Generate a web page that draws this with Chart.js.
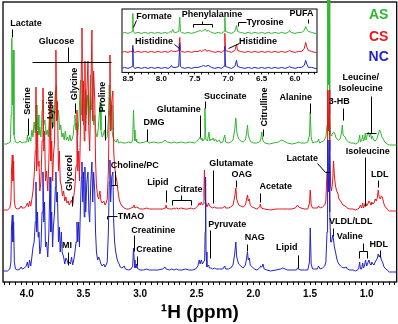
<!DOCTYPE html>
<html><head><meta charset="utf-8">
<script src="https://cdn.jsdelivr.net/npm/chart.js@4.4.1/dist/chart.umd.min.js"></script>
<style>
html,body{margin:0;padding:0;background:#fff;}
#wrap{position:relative;width:398px;height:324px;overflow:hidden;}
#main{position:absolute;left:0;top:0;}
#inset{position:absolute;left:112px;top:6px;}
</style></head><body>
<div id="wrap"><canvas id="main" width="398" height="324"></canvas><canvas id="inset" width="215" height="78"></canvas></div>
<script>
// ---------- data (ppm, intensity above each trace's baseline) ----------
const seriesNames = ['AS', 'CS', 'NC'];
const mainTickLabels = [4.0, 3.5, 3.0, 2.5, 2.0, 1.5, 1.0];
const insetTickLabels = [8.5, 8.0, 7.5, 7.0, 6.5, 6.0];

const asSpectrum = [
[4.21,1],[4.18,1],[4.16,2],[4.145,3],[4.138,30],[4.132,107],[4.126,40],[4.12,95],[4.113,10],[4.10,3],[4.08,2],[4.06,4],[4.045,2],[4.025,3],[4.00,3],[3.995,10],[3.985,3],[3.975,8],[3.965,4],[3.955,15],[3.945,8],[3.935,23],[3.925,12],[3.918,40],[3.91,15],[3.90,30],[3.893,10],[3.885,18],[3.875,8],[3.865,35],[3.858,45],[3.85,20],[3.84,25],[3.83,10],[3.82,15],[3.81,8],[3.80,30],[3.793,12],[3.785,38],[3.777,20],[3.77,40],[3.762,18],[3.755,30],[3.745,55],[3.738,60],[3.73,25],[3.72,35],[3.71,15],[3.70,20],[3.69,8],[3.68,12],[3.67,5],[3.66,14],[3.65,5],[3.64,8],[3.63,4],[3.62,10],[3.61,4],[3.60,6],[3.59,10],[3.583,20],[3.575,30],[3.567,15],[3.56,22],[3.55,10],[3.54,25],[3.532,50],[3.525,65],[3.518,30],[3.51,45],[3.50,20],[3.49,40],[3.482,55],[3.475,30],[3.465,50],[3.455,20],[3.445,40],[3.438,70],[3.43,35],[3.42,50],[3.41,20],[3.40,30],[3.39,12],[3.38,8],[3.37,15],[3.36,30],[3.352,43],[3.345,15],[3.335,8],[3.325,10],[3.315,15],[3.305,6],[3.29,8],[3.28,25],[3.272,60],[3.265,30],[3.255,40],[3.248,15],[3.24,8],[3.225,4],[3.21,3],[3.20,6],[3.19,2],[3.17,3],[3.15,2],[3.13,2],[3.10,3],[3.08,2],[3.065,5],[3.058,35],[3.052,15],[3.045,4],[3.035,6],[3.03,3],[3.00,2],[2.96,3],[2.94,4],[2.92,2],[2.88,3],[2.84,2],[2.80,3],[2.78,5],[2.76,3],[2.72,2],[2.70,3],[2.68,2],[2.64,3],[2.60,2],[2.56,3],[2.52,2],[2.50,4],[2.48,6],[2.47,8],[2.46,5],[2.455,7],[2.445,4],[2.435,6],[2.428,37],[2.42,6],[2.405,4],[2.392,13],[2.385,4],[2.375,6],[2.365,5],[2.355,7],[2.345,4],[2.335,6],[2.32,3],[2.30,5],[2.29,2],[2.27,3],[2.253,10],[2.245,3],[2.22,2],[2.20,3],[2.18,5],[2.165,15],[2.155,27],[2.145,12],[2.13,6],[2.11,4],[2.09,3],[2.07,5],[2.06,12],[2.052,20],[2.045,10],[2.035,6],[2.02,3],[2.00,2],[1.97,2],[1.945,3],[1.935,6],[1.925,13],[1.918,5],[1.90,2],[1.86,1],[1.82,2],[1.78,3],[1.75,5],[1.73,4],[1.70,2],[1.66,1],[1.62,2],[1.60,3],[1.58,2],[1.54,2],[1.52,3],[1.505,10],[1.498,33],[1.49,8],[1.478,2],[1.46,3],[1.435,3],[1.425,6],[1.415,2],[1.40,3],[1.38,4],[1.36,8],[1.35,20],[1.345,300],[1.338,60],[1.332,300],[1.326,30],[1.318,10],[1.31,9],[1.30,12],[1.29,13],[1.28,11],[1.27,7],[1.25,5],[1.235,6],[1.222,12],[1.215,20],[1.208,10],[1.20,9],[1.19,8],[1.18,5],[1.16,3],[1.14,2],[1.12,2],[1.10,1],[1.08,2],[1.07,4],[1.062,10],[1.055,3],[1.045,4],[1.035,10],[1.028,4],[1.02,6],[1.012,12],[1.005,5],[0.995,10],[0.985,13],[0.975,8],[0.965,12],[0.958,6],[0.95,9],[0.94,5],[0.925,4],[0.91,6],[0.895,12],[0.885,15],[0.875,12],[0.865,8],[0.855,6],[0.84,3],[0.82,1],[0.80,0],[0.76,0],[0.735,0]
];

const csSpectrum = [
[4.21,1],[4.17,1],[4.15,3],[4.14,10],[4.135,40],[4.128,56],[4.122,30],[4.116,50],[4.11,10],[4.10,3],[4.08,2],[4.06,3],[4.05,5],[4.04,3],[4.02,3],[4.005,5],[3.995,8],[3.985,4],[3.975,10],[3.965,5],[3.955,12],[3.945,20],[3.935,35],[3.925,60],[3.919,124],[3.913,40],[3.905,80],[3.90,45],[3.893,50],[3.885,20],[3.875,30],[3.865,70],[3.857,123],[3.85,60],[3.843,80],[3.835,30],[3.825,40],[3.815,20],[3.805,50],[3.795,111],[3.788,50],[3.78,70],[3.772,30],[3.765,55],[3.755,70],[3.748,120],[3.743,161],[3.738,90],[3.73,110],[3.72,40],[3.712,60],[3.705,30],[3.695,25],[3.685,15],[3.675,20],[3.665,10],[3.655,14],[3.645,8],[3.635,10],[3.625,6],[3.615,9],[3.605,11],[3.595,6],[3.585,15],[3.575,25],[3.565,45],[3.557,101],[3.55,40],[3.542,60],[3.535,30],[3.525,90],[3.518,150],[3.513,183],[3.507,90],[3.50,130],[3.493,70],[3.487,150],[3.48,80],[3.47,120],[3.46,150],[3.452,80],[3.445,60],[3.435,120],[3.425,181],[3.418,90],[3.41,140],[3.40,110],[3.393,50],[3.385,25],[3.375,15],[3.365,12],[3.355,20],[3.345,10],[3.335,8],[3.32,10],[3.31,6],[3.30,8],[3.29,12],[3.28,40],[3.272,100],[3.266,156],[3.26,80],[3.25,110],[3.24,120],[3.233,60],[3.225,45],[3.215,35],[3.205,30],[3.195,20],[3.185,12],[3.175,8],[3.16,5],[3.14,3],[3.12,2],[3.10,2],[3.08,3],[3.06,4],[3.055,6],[3.045,3],[3.03,4],[3.00,2],[2.97,2],[2.94,3],[2.92,2],[2.88,2],[2.84,2],[2.80,2],[2.78,3],[2.772,6],[2.765,3],[2.74,2],[2.72,2],[2.70,3],[2.69,2],[2.68,3],[2.66,2],[2.64,3],[2.60,2],[2.58,2],[2.55,3],[2.53,2],[2.51,3],[2.49,5],[2.478,8],[2.47,6],[2.46,9],[2.45,6],[2.44,7],[2.436,20],[2.432,41],[2.427,12],[2.41,4],[2.395,8],[2.388,5],[2.375,4],[2.36,3],[2.345,4],[2.33,3],[2.30,3],[2.27,3],[2.253,5],[2.245,3],[2.22,3],[2.20,4],[2.18,6],[2.165,14],[2.155,23],[2.147,12],[2.13,6],[2.11,5],[2.09,4],[2.07,6],[2.06,12],[2.052,16],[2.045,10],[2.035,12],[2.028,6],[2.01,4],[1.99,3],[1.97,2],[1.945,4],[1.938,7],[1.93,3],[1.90,2],[1.85,1],[1.80,2],[1.77,2],[1.74,2],[1.70,2],[1.66,2],[1.63,3],[1.61,6],[1.60,4],[1.58,3],[1.55,2],[1.52,2],[1.505,8],[1.498,21],[1.49,6],[1.478,3],[1.46,3],[1.435,3],[1.425,5],[1.41,3],[1.39,4],[1.37,6],[1.36,10],[1.35,40],[1.345,121],[1.338,80],[1.332,121],[1.326,60],[1.318,25],[1.31,20],[1.30,30],[1.292,50],[1.285,35],[1.275,25],[1.265,20],[1.255,18],[1.245,12],[1.23,10],[1.22,8],[1.21,6],[1.19,5],[1.17,3],[1.15,2],[1.12,2],[1.10,1],[1.08,2],[1.065,3],[1.055,6],[1.045,3],[1.035,8],[1.028,3],[1.018,6],[1.01,9],[1.00,5],[0.99,7],[0.98,10],[0.97,8],[0.962,6],[0.955,9],[0.945,7],[0.935,8],[0.925,12],[0.915,10],[0.905,14],[0.898,21],[0.89,14],[0.88,12],[0.87,15],[0.862,14],[0.85,8],[0.84,5],[0.82,2],[0.80,0],[0.76,0],[0.735,0]
];

const ncSpectrum = [
[4.21,1],[4.17,1],[4.15,3],[4.14,10],[4.135,45],[4.128,57],[4.122,30],[4.116,50],[4.11,10],[4.10,3],[4.08,2],[4.06,3],[4.05,5],[4.04,3],[4.02,4],[4.005,6],[3.995,10],[3.985,4],[3.975,12],[3.965,6],[3.955,15],[3.945,25],[3.935,30],[3.925,50],[3.919,90],[3.913,40],[3.905,60],[3.90,35],[3.893,40],[3.885,18],[3.875,25],[3.865,60],[3.857,100],[3.85,50],[3.843,70],[3.835,25],[3.825,30],[3.815,15],[3.805,40],[3.795,95],[3.788,40],[3.78,60],[3.772,25],[3.765,45],[3.755,60],[3.748,85],[3.743,100],[3.738,70],[3.73,80],[3.72,30],[3.712,45],[3.705,20],[3.695,40],[3.688,20],[3.675,15],[3.665,8],[3.655,14],[3.645,12],[3.635,8],[3.625,10],[3.615,8],[3.605,15],[3.595,7],[3.585,12],[3.575,20],[3.565,30],[3.557,50],[3.55,30],[3.542,50],[3.535,25],[3.525,70],[3.518,95],[3.513,110],[3.507,70],[3.50,100],[3.493,55],[3.487,105],[3.48,60],[3.47,90],[3.46,100],[3.452,60],[3.445,50],[3.435,90],[3.425,110],[3.418,70],[3.41,100],[3.40,80],[3.393,40],[3.385,20],[3.375,12],[3.365,15],[3.355,12],[3.345,8],[3.335,6],[3.32,8],[3.31,5],[3.30,7],[3.29,10],[3.28,40],[3.272,90],[3.266,112],[3.26,70],[3.25,95],[3.24,100],[3.233,50],[3.225,30],[3.215,20],[3.205,14],[3.195,10],[3.185,8],[3.175,5],[3.16,4],[3.14,6],[3.13,3],[3.10,2],[3.08,3],[3.065,6],[3.058,24],[3.052,12],[3.045,4],[3.033,8],[3.028,4],[3.00,2],[2.97,2],[2.94,3],[2.92,2],[2.88,2],[2.84,2],[2.80,3],[2.78,5],[2.77,3],[2.74,2],[2.72,3],[2.70,2],[2.68,3],[2.66,2],[2.63,2],[2.60,3],[2.57,2],[2.54,2],[2.51,3],[2.49,6],[2.478,12],[2.47,8],[2.46,12],[2.45,8],[2.44,10],[2.43,12],[2.426,40],[2.422,95],[2.418,20],[2.41,5],[2.395,7],[2.388,4],[2.375,4],[2.36,3],[2.345,4],[2.33,3],[2.30,3],[2.27,3],[2.253,6],[2.245,3],[2.22,3],[2.20,4],[2.18,7],[2.165,18],[2.155,30],[2.147,15],[2.13,8],[2.11,6],[2.09,4],[2.07,7],[2.06,14],[2.052,20],[2.045,12],[2.035,14],[2.028,7],[2.01,5],[1.99,3],[1.97,2],[1.945,4],[1.935,6],[1.925,5],[1.915,8],[1.905,3],[1.88,2],[1.85,1],[1.80,2],[1.76,3],[1.74,4],[1.72,3],[1.70,2],[1.66,2],[1.62,2],[1.61,4],[1.60,3],[1.58,2],[1.55,2],[1.52,2],[1.505,10],[1.498,44],[1.49,8],[1.478,3],[1.46,3],[1.435,3],[1.425,6],[1.41,3],[1.39,4],[1.37,6],[1.36,10],[1.35,40],[1.345,132],[1.338,80],[1.332,132],[1.326,60],[1.318,30],[1.31,30],[1.30,37],[1.292,32],[1.285,25],[1.275,20],[1.265,14],[1.255,10],[1.245,8],[1.23,6],[1.22,5],[1.20,4],[1.18,5],[1.17,3],[1.15,2],[1.12,2],[1.10,1],[1.08,2],[1.07,4],[1.062,10],[1.055,3],[1.045,3],[1.035,9],[1.028,4],[1.018,7],[1.01,12],[1.00,6],[0.99,9],[0.98,12],[0.97,8],[0.962,7],[0.955,10],[0.945,8],[0.935,7],[0.925,10],[0.915,12],[0.905,14],[0.898,18],[0.89,15],[0.88,17],[0.87,12],[0.86,10],[0.85,6],[0.84,4],[0.82,2],[0.80,0],[0.76,0],[0.735,0]
];

const insetAS = [
[8.59,0],[8.55,1],[8.50,0],[8.46,1],[8.435,2],[8.428,20],[8.42,2],[8.40,0],[8.35,1],[8.30,0],[8.25,1],[8.20,0],[8.15,1],[8.10,0],[8.05,1],[8.00,0],[7.95,1],[7.90,0],[7.87,2],[7.85,1],[7.83,4],[7.81,1],[7.78,1],[7.74,2],[7.725,16],[7.715,2],[7.70,1],[7.65,0],[7.60,1],[7.55,0],[7.50,1],[7.45,2],[7.42,3],[7.40,2],[7.37,3],[7.34,4],[7.32,2],[7.30,3],[7.28,2],[7.25,1],[7.20,0],[7.15,1],[7.10,0],[7.06,2],[7.05,16],[7.04,2],[7.00,1],[6.95,0],[6.90,2],[6.875,8],[6.86,2],[6.82,1],[6.75,0],[6.70,1],[6.65,0],[6.60,1],[6.55,0],[6.50,1],[6.45,0],[6.40,1],[6.35,0],[6.30,1],[6.25,0],[6.20,1],[6.15,0],[6.10,1],[6.08,3],[6.06,1],[6.00,0],[5.95,1],[5.90,1],[5.86,3],[5.84,7],[5.82,4],[5.80,2],[5.75,1],[5.70,0],[5.67,0]
];
const insetCS = [
[8.59,0],[8.55,1],[8.50,0],[8.46,1],[8.435,1],[8.428,4],[8.42,1],[8.40,0],[8.35,1],[8.30,0],[8.25,1],[8.20,0],[8.15,1],[8.10,0],[8.05,1],[8.00,0],[7.95,1],[7.90,0],[7.87,1],[7.85,2],[7.83,1],[7.78,1],[7.74,2],[7.725,15],[7.715,2],[7.70,1],[7.65,0],[7.60,1],[7.55,0],[7.50,1],[7.45,1],[7.42,2],[7.40,1],[7.37,2],[7.34,3],[7.32,1],[7.30,2],[7.25,1],[7.20,0],[7.15,1],[7.10,0],[7.06,2],[7.05,19],[7.04,2],[7.00,1],[6.95,0],[6.90,2],[6.875,8],[6.86,2],[6.82,1],[6.75,0],[6.70,1],[6.65,0],[6.60,1],[6.55,0],[6.50,1],[6.45,0],[6.40,1],[6.35,0],[6.30,1],[6.25,0],[6.20,1],[6.15,0],[6.10,1],[6.08,2],[6.06,1],[6.00,0],[5.95,1],[5.90,1],[5.86,4],[5.84,10],[5.82,5],[5.80,2],[5.75,1],[5.70,0],[5.67,0]
];
const insetNC = [
[8.59,0],[8.55,1],[8.50,0],[8.46,1],[8.435,2],[8.428,23],[8.42,2],[8.40,0],[8.35,1],[8.30,0],[8.25,1],[8.20,0],[8.15,1],[8.10,0],[8.05,1],[8.00,0],[7.95,1],[7.90,0],[7.87,1],[7.85,3],[7.83,1],[7.78,1],[7.74,2],[7.725,25],[7.715,2],[7.70,1],[7.65,0],[7.60,1],[7.55,0],[7.50,1],[7.45,1],[7.40,2],[7.37,3],[7.34,2],[7.30,3],[7.25,1],[7.20,0],[7.15,1],[7.10,0],[7.06,2],[7.05,22],[7.04,2],[7.00,1],[6.95,0],[6.90,2],[6.875,8],[6.86,2],[6.82,1],[6.75,0],[6.70,1],[6.65,0],[6.60,1],[6.55,0],[6.50,1],[6.45,0],[6.40,1],[6.35,0],[6.30,1],[6.25,0],[6.20,1],[6.15,0],[6.10,1],[6.08,2],[6.06,1],[6.00,0],[5.95,1],[5.90,1],[5.86,3],[5.84,8],[5.82,4],[5.80,1],[5.75,1],[5.70,0],[5.67,0]
];

// ---------- presentation ----------
const colors = { AS: '#2fb82f', CS: '#e8161c', NC: '#2323cc' };
const mainOffset = { AS: 137, CS: 71, NC: 10 };
const insetOffset = { AS: 39, CS: 20, NC: 4 };
const FONT = '"Liberation Sans", Arial, Helvetica, sans-serif';
Chart.defaults.font.family = FONT;

const mainLabels = [
 {t:'Lactate', x:4.007, y:258}, {t:'Glucose', x:3.738, y:240},
 {t:'Serine', x:3.998, y:181, r:1}, {t:'Lysine', x:3.795, y:177, r:1},
 {t:'Glycine', x:3.575, y:198, r:1}, {t:'Proline', x:3.328, y:185, r:1},
 {t:'Glutamine', x:2.658, y:172}, {t:'DMG', x:2.878, y:159},
 {t:'Succinate', x:2.248, y:185}, {t:'Citrulline', x:1.899, y:175, r:1},
 {t:'Alanine', x:1.626, y:184}, {t:'3-HB', x:1.242, y:180},
 {t:'Leucine/', x:1.052, y:204}, {t:'Isoleucine', x:1.052, y:193},
 {t:'Glycerol', x:3.623, y:109, r:1}, {t:'Choline/PC', x:3.046, y:116},
 {t:'Lipid', x:2.843, y:99}, {t:'Citrate', x:2.574, y:92},
 {t:'Glutamate', x:2.195, y:118}, {t:'OAG', x:2.102, y:107},
 {t:'Acetate', x:1.802, y:95}, {t:'Lactate', x:1.568, y:123},
 {t:'Isoleucine', x:0.99, y:130}, {t:'LDL', x:0.885, y:107},
 {t:'TMAO', x:3.081, y:65}, {t:'Creatinine', x:2.883, y:51},
 {t:'Creatine', x:2.874, y:32}, {t:'MI', x:3.646, y:36},
 {t:'Pyruvate', x:2.230, y:57}, {t:'NAG', x:1.987, y:44},
 {t:'Lipid', x:1.705, y:34}, {t:'VLDL/LDL', x:1.141, y:60},
 {t:'Valine', x:1.150, y:45}, {t:'HDL', x:0.894, y:37},
 {t:'AS', x:0.894, y:267, c:colors.AS, s:14}, {t:'CS', x:0.894, y:245, c:colors.CS, s:14},
 {t:'NC', x:0.894, y:225, c:colors.NC, s:14}
];
const mainLines = [
 [[4.131,253],[4.131,245]], [[3.637,235],[3.637,220]], [[3.954,220],[3.257,220]],
 [[3.990,164],[3.990,147]], [[3.778,160],[3.778,154]], [[3.575,179],[3.575,169]],
 [[3.310,167],[3.310,142]], [[2.472,167],[2.472,145]], [[2.940,153],[2.940,141]],
 [[2.428,181],[2.428,174]], [[1.917,153],[1.917,146]], [[1.502,179],[1.502,169]],
 [[1.210,174],[1.210,162]], [[0.963,186],[0.963,149]], [[1.007,149],[0.919,149]],
 [[3.601,86],[3.601,76]], [[3.222,111],[3.222,97]], [[3.257,97],[3.204,97]],
 [[2.772,92],[2.772,80]], [[2.640,87],[2.640,82]], [[2.719,77],[2.719,82],[2.552,82],[2.552,77]],
 [[2.358,112],[2.358,79]], [[2.155,102],[2.155,95]], [[1.943,89],[1.943,80]],
 [[1.440,119],[1.370,110],[1.326,110]], [[1.016,125],[1.016,76]], [[0.901,102],[0.901,95]],
 [[3.293,63],[3.293,66],[3.204,66]], [[3.055,47],[3.055,31]], [[3.028,26],[3.028,17]],
 [[3.637,30],[3.637,17]], [[2.384,52],[2.384,24]], [[2.058,38],[2.058,31]],
 [[1.608,27],[1.608,14]], [[1.300,54],[1.300,46]], [[1.034,39],[1.034,31]],
 [[1.069,24],[1.069,31],[0.998,31],[0.998,24]], [[0.885,32],[0.885,25]]
];
const insetLabels = [
 {t:'Formate', x:8.11, y:55.4}, {t:'Phenylalanine', x:7.243, y:57.4},
 {t:'Histidine', x:8.11, y:30.4}, {t:'Histidine', x:6.554, y:30.4},
 {t:'Tyrosine', x:6.449, y:49.4}, {t:'PUFA', x:5.903, y:58.4}
];
const insetLines = [
 [[8.380,52.4],[8.425,45.4]], [[7.527,45.4],[7.527,48.4],[7.243,48.4],[7.243,45.4]],
 [[7.385,51.4],[7.385,48.4]], [[7.811,28.4],[7.737,24.4]], [[6.838,29.4],[7.003,24.4]],
 [[6.733,50.4],[6.853,50.4],[6.853,46.4]], [[5.805,53.4],[5.805,49.4]]
];

const annotPlugin = {
  id: 'annot',
  beforeDatasetsDraw(chart, args, opts) {
    const {ctx, chartArea: a} = chart;
    ctx.save();
    if (opts.fill) { ctx.fillStyle = '#fff'; ctx.fillRect(a.left, a.top, a.right - a.left, a.bottom - a.top); }
    ctx.strokeStyle = '#000'; ctx.lineWidth = opts.frame;
    ctx.strokeRect(a.left, a.top, a.right - a.left, a.bottom - a.top);
    ctx.restore();
  },
  afterDatasetsDraw(chart, args, opts) {
    const {ctx, scales: {x, y}} = chart;
    ctx.save();
    ctx.strokeStyle = '#000'; ctx.lineWidth = 1;
    for (const seg of opts.lines) {
      ctx.beginPath();
      seg.forEach(([px, py], i) => {
        const X = Math.round(x.getPixelForValue(px)) + 0.5, Y = Math.round(y.getPixelForValue(py)) + 0.5;
        i ? ctx.lineTo(X, Y) : ctx.moveTo(X, Y);
      });
      ctx.stroke();
    }
    ctx.textAlign = 'center'; ctx.textBaseline = 'middle';
    for (const l of opts.labels) {
      ctx.font = 'bold ' + (l.s || 9) + 'px ' + FONT;
      ctx.fillStyle = l.c || '#000';
      const X = x.getPixelForValue(l.x), Y = y.getPixelForValue(l.y);
      if (l.r) { ctx.save(); ctx.translate(X, Y); ctx.rotate(-Math.PI / 2); ctx.fillText(l.t, 0, 0); ctx.restore(); }
      else ctx.fillText(l.t, X, Y);
    }
    ctx.restore();
  }
};

const toXY = (arr, off) => arr.map(([p, v]) => ({x: p, y: v + off}));
const ds = (name, arr, off, extra) => Object.assign({
  label: name, data: toXY(arr, off), borderColor: colors[name], borderWidth: 1,
  pointRadius: 0, tension: 0, fill: false
}, extra || {});

new Chart(document.getElementById('main'), {
  type: 'line',
  data: { datasets: [
    ds('NC', ncSpectrum, mainOffset.NC),
    ds('CS', csSpectrum, mainOffset.CS),
    ds('AS', asSpectrum, mainOffset.AS, {clip: {left: 0, top: false, right: 0, bottom: 0}})
  ]},
  options: {
    responsive: false, animation: false, devicePixelRatio: 1,
    layout: { padding: { left: 3, right: 1, top: 2, bottom: 0 } },
    plugins: { legend: {display: false}, tooltip: {enabled: false},
      annot: { lines: mainLines, labels: mainLabels, frame: 1.3, fill: false } },
    scales: {
      x: { type: 'linear', reverse: true, min: 0.735, max: 4.21,
        afterBuildTicks: s => { const t = []; for (let k = 84; k >= 15; k--) t.push({value: +(k * 0.05).toFixed(2)}); s.ticks = t; },
        ticks: { autoSkip: false, maxRotation: 0, minRotation: 0, padding: 3, color: '#000',
          font: { size: 10, weight: 'bold' },
          callback: v => mainTickLabels.some(t => Math.abs(t - v) < 1e-6) ? v.toFixed(1) : '' },
        grid: { drawOnChartArea: false, drawTicks: true, tickLength: 3, color: '#000', lineWidth: 1 },
        border: { display: false },
        title: { display: true, text: '\u00B9H (ppm)', color: '#000',
          font: { size: 19, weight: 'bold', lineHeight: 1.0 }, padding: { top: 0, bottom: 2 } }
      },
      y: { display: false, min: 0, max: 280 }
    }
  },
  plugins: [annotPlugin]
});

new Chart(document.getElementById('inset'), {
  type: 'line',
  data: { datasets: [
    ds('NC', insetNC, insetOffset.NC),
    ds('CS', insetCS, insetOffset.CS),
    ds('AS', insetAS, insetOffset.AS)
  ]},
  options: {
    responsive: false, animation: false, devicePixelRatio: 1,
    layout: { padding: { left: 10, right: 10, top: 3, bottom: 0 } },
    plugins: { legend: {display: false}, tooltip: {enabled: false},
      annot: { lines: insetLines, labels: insetLabels, frame: 1, fill: true } },
    scales: {
      x: { type: 'linear', reverse: true, min: 5.67, max: 8.59,
        afterBuildTicks: s => { const t = []; for (let k = 85; k >= 57; k--) t.push({value: +(k * 0.1).toFixed(1)}); s.ticks = t; },
        ticks: { autoSkip: false, maxRotation: 0, minRotation: 0, padding: 0, color: '#000',
          font: { size: 8, weight: 'bold' },
          callback: v => insetTickLabels.some(t => Math.abs(t - v) < 1e-6) ? v.toFixed(1) : '' },
        grid: { drawOnChartArea: false, drawTicks: true, tickLength: 2, color: '#000', lineWidth: 1 },
        border: { display: false }
      },
      y: { display: false, min: 0, max: 63.4 }
    }
  },
  plugins: [annotPlugin]
});
</script>
</body></html>
